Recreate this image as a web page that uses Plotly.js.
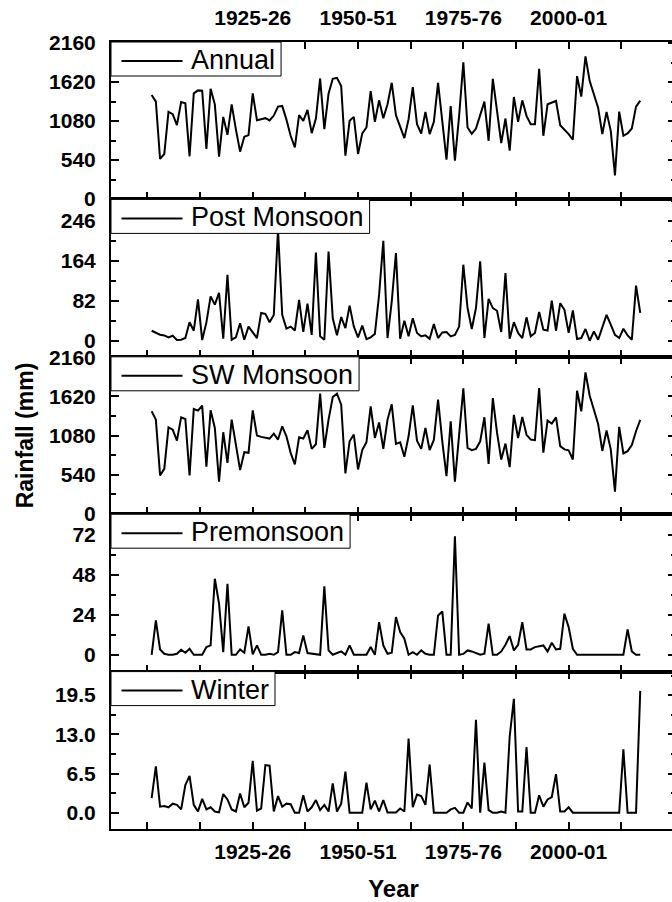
<!DOCTYPE html>
<html><head><meta charset="utf-8">
<script src="https://cdn.plot.ly/plotly-3.0.1.min.js"></script>
<style>html,body{margin:0;padding:0;overflow:hidden;background:#fff}#chart{width:676px;height:902px}</style>
</head><body><div id="chart"></div>
<script>
const years = [1901,1902,1903,1904,1905,1906,1907,1908,1909,1910,
1911,1912,1913,1914,1915,1916,1917,1918,1919,1920,
1921,1922,1923,1924,1925,1926,1927,1928,1929,1930,
1931,1932,1933,1934,1935,1936,1937,1938,1939,1940,
1941,1942,1943,1944,1945,1946,1947,1948,1949,1950,
1951,1952,1953,1954,1955,1956,1957,1958,1959,1960,
1961,1962,1963,1964,1965,1966,1967,1968,1969,1970,
1971,1972,1973,1974,1975,1976,1977,1978,1979,1980,
1981,1982,1983,1984,1985,1986,1987,1988,1989,1990,
1991,1992,1993,1994,1995,1996,1997,1998,1999,2000,
2001,2002,2003,2004,2005,2006,2007,2008,2009,2010,
2011,2012,2013,2014,2015,2016,2017];

const annual = [1441,1349,555,624,1207,1175,1023,1344,1326,592,
1464,1505,1500,693,1528,1312,587,1138,890,1312,
965,656,862,885,1464,1092,1106,1120,1088,1156,
1280,1289,1100,876,716,1161,1083,1234,913,1115,
1670,968,1459,1665,1679,1564,601,1083,1138,624,
908,991,1496,1069,1367,1119,1312,1610,1161,1005,
844,1106,1551,1037,908,1207,899,1069,1610,1078,
546,1289,532,1152,1895,991,904,977,1161,1349,
807,1665,1220,775,1115,670,1413,1069,1367,1152,
1037,1037,1803,876,1312,1335,1358,1023,968,899,
821,1702,1418,1977,1633,1450,1266,899,1207,945,
326,1211,876,908,977,1280,1363];

const postMonsoon = [20.5,15.7,12.3,10.9,6.8,10.2,1.4,2,5.5,38,
20.5,85,1.4,37.6,91,74,98,4,135,2,
7,36,2,29,18,5.5,57,55,38,53,
228,53,25,29,21,84,18,76,12,181,
9,2,183,46,11,48.5,26,72,29,7,
31,3.4,7,14,94,205,5.5,80,180,4,
41,9,46,16,9,11,4,34,5.5,17,
18,9,12,29,156,67,24,67,163,5.5,
86,67,61.5,18,139,4,38,16,5.5,48,
9,16,59,22.5,21,82,20.5,77,63.5,16,
62,3.4,5.5,24,0,19,2,26,53,33,
12,5.5,24.6,11,2,113,57];

const swMonsoon = [1414,1300,531,622,1194,1162,1011,1332,1309,531,
1446,1423,1492,650,1428,1185,444,1126,705,1300,
956,604,851,842,1428,1080,1062,1048,1039,1107,
1025,1208,1070,842,682,1057,1039,1153,897,960,
1657,911,1300,1611,1657,1505,558,1002,1094,613,
880,988,1483,1048,1260,897,1300,1510,965,988,
787,1070,1496,1010,897,1185,879,1020,1574,1000,
520,1277,446,1090,1730,911,879,897,1000,1332,
690,1597,1120,750,970,645,1365,1045,1336,1090,
1025,1016,1735,845,1288,1245,1330,935,890,877,
750,1698,1414,1950,1629,1435,1240,868,1150,890,
308,1200,835,865,950,1140,1295];

const preMonsoon = [0,20.6,3.2,0.6,0,0,0.6,3,1.2,3.6,
0,0,0,4.6,5.6,45.6,30.6,1.6,42.6,0,
0,3.2,1.2,17,0.2,5.6,0,0,0.6,0,
1.6,26.6,0,0,1.6,1,11.6,1,0.6,0.6,
0,41,2.6,0,1.2,2,0,5.6,0,0,
0,0,4.6,0,19.6,5.6,0.6,1.2,22.6,13.6,
9.6,0,1.6,0,2.6,0.6,0,0,23.6,26,
0,0,71,0,0.5,2.6,2,1.2,0,0.6,
18.6,0,0,2,6,11.2,2.6,6,19.6,3.2,
3.2,4.6,5.2,5.6,2,7.2,3.2,3.6,24.6,16.6,
3.6,0,0,0,0,0,0,0,0,0,
0,0,0,15.2,2,0,0];

const winter = [2.4,7.7,1.0,1.1,0.9,1.5,1.3,0.55,4.6,6.1,
1.3,0.2,2.3,0.55,0.9,0.2,0.05,3.1,2.2,0.55,
0.2,3.2,0.9,1.65,8.6,0.33,0.7,7.9,7.8,0.2,
2.75,1.0,1.5,1.4,0,0,2.9,0.2,0.9,2.1,
0.44,1.3,0.2,4.85,0.2,1.5,6.8,0,0,0,
0,5.0,0.55,2.0,0.2,2.1,0.05,0.05,0.05,0.7,
0.2,12.3,0.9,3.0,2.75,1.3,8.0,0,0,0,
0,0.55,0.8,0,0,1.7,0.7,15.4,0,8.3,
0.44,0,0,0.2,0,12.6,18.9,0.2,0.2,10.9,
0,0,2.9,1.0,2.2,2.6,6.4,0.2,0.2,0.9,
0,0,0,0,0,0,0,0,0,0,
0,0,10.5,0,0,0,20.2];

const seriesNames = ['Annual','Post Monsoon','SW Monsoon','Premonsoon','Winter'];
const seriesData = [annual, postMonsoon, swMonsoon, preMonsoon, winter];

const xTickVals = [1900,1912.5,1925,1937.5,1950,1962.5,1975,1987.5,2000,2012.5];
const xTickText = ['','','1925-26','','1950-51','','1975-76','','2000-01',''];

const yTickVals = [
  [0,540,1080,1620,2160],
  [0,82,164,246],
  [0,540,1080,1620,2160],
  [0,24,48,72],
  [0,6.5,13,19.5]
];
const yTickText = [
  ['0','540','1080','1620','2160'],
  ['0','82','164','246'],
  ['0','540','1080','1620','2160'],
  ['0','24','48','72'],
  ['0.0','6.5','13.0','19.5']
];
const yMinorStep = [270,41,270,12,3.25];
const yRanges = [[-5,2175],[-33,290],[-3,2165],[-10.1,84.3],[-2.7,23.4]];

const FONT = 'Liberation Sans, Arial, sans-serif';
const tickFont = {family: FONT, size: 21, color: '#000', weight: 'bold'};
const LEG_SIZE = 27;

// plot-area geometry in pixels (used only to place the legend boxes)
const W = 676, H = 902, ML = 111, MR = 0, MT = 42, MB = 73;
const PW = W - ML - MR, PH = H - MT - MB;
const px2x = p => (p - ML) / PW;
const py2y = p => (H - MB - p) / PH;

const ctx = document.createElement('canvas').getContext('2d');
ctx.font = LEG_SIZE + 'px "Liberation Sans"';

const traces = [];
const shapes = [];
const annotations = [];
const layout = {
  width: W, height: H,
  margin: {l: ML, r: MR, t: MT, b: MB},
  paper_bgcolor: '#fff', plot_bgcolor: '#fff',
  showlegend: false,
  font: {family: FONT, color: '#000'}
};

const n = seriesNames.length;
for (let i = 0; i < n; i++) {
  const sfx = i === 0 ? '' : String(i + 1);
  const top = 1 - i / n, bot = 1 - (i + 1) / n;
  traces.push({
    type: 'scatter', mode: 'lines',
    x: years, y: seriesData[i], name: seriesNames[i],
    xaxis: 'x' + sfx, yaxis: 'y' + sfx,
    line: {color: '#000', width: 2},
    hoverinfo: 'x+y'
  });
  layout['xaxis' + sfx] = {
    domain: [0, 1], anchor: 'y' + sfx,
    range: [1891.35, 2025.49],
    tickmode: 'array', tickvals: xTickVals, ticktext: xTickText,
    ticks: 'inside', ticklen: 7, tickwidth: 2, tickcolor: '#000',
    showline: true, linecolor: '#000', linewidth: 2, mirror: 'ticks',
    showgrid: false, zeroline: false,
    showticklabels: (i === 0 || i === n - 1),
    side: i === 0 ? 'top' : 'bottom',
    tickfont: tickFont, ticklabelstandoff: i === 0 ? 7 : 3,
    matches: i === 0 ? undefined : 'x'
  };
  if (i === n - 1) {
    layout['xaxis' + sfx].title = {text: 'Year', font: {family: FONT, size: 24, color: '#000', weight: 'bold'}, standoff: 26};
  }
  layout['yaxis' + sfx] = {
    domain: [bot, top], anchor: 'x' + sfx,
    range: yRanges[i],
    tickmode: 'array', tickvals: yTickVals[i], ticktext: yTickText[i],
    ticks: 'inside', ticklen: 8, tickwidth: 2, tickcolor: '#000',
    minor: {dtick: yMinorStep[i], tick0: 0, ticks: 'inside', ticklen: 5, tickwidth: 2, tickcolor: '#000'},
    showline: true, linecolor: '#000', linewidth: 2, mirror: 'ticks',
    showgrid: false, zeroline: false,
    tickfont: tickFont, ticklabelstandoff: 9
  };
  if (i === 2) {
    layout['yaxis' + sfx].title = {text: 'Rainfall (mm)', font: {family: FONT, size: 23, color: '#000', weight: 'bold'}, standoff: 9};
  }

  // legend box for this panel
  const topPx = MT + i * PH / n;
  const tw = ctx.measureText(seriesNames[i]).width;
  shapes.push({
    type: 'rect', xref: 'paper', yref: 'paper', layer: 'above',
    x0: px2x(ML), x1: px2x(190 + tw + 7),
    y0: py2y(topPx + 34), y1: py2y(topPx),
    fillcolor: '#fff', line: {color: '#000', width: 1}
  });
  shapes.push({
    type: 'line', xref: 'paper', yref: 'paper', layer: 'above',
    x0: px2x(121.5), x1: px2x(182.5),
    y0: py2y(topPx + 19), y1: py2y(topPx + 19),
    line: {color: '#000', width: 2}
  });
  annotations.push({
    xref: 'paper', yref: 'paper', x: px2x(189), y: py2y(topPx + 18),
    xanchor: 'left', yanchor: 'middle', showarrow: false,
    text: seriesNames[i],
    font: {family: FONT, size: LEG_SIZE, color: '#000'}
  });
}
layout.shapes = shapes;
layout.annotations = annotations;

Plotly.newPlot('chart', traces, layout, {displayModeBar: false, staticPlot: true});
</script>
</body></html>
